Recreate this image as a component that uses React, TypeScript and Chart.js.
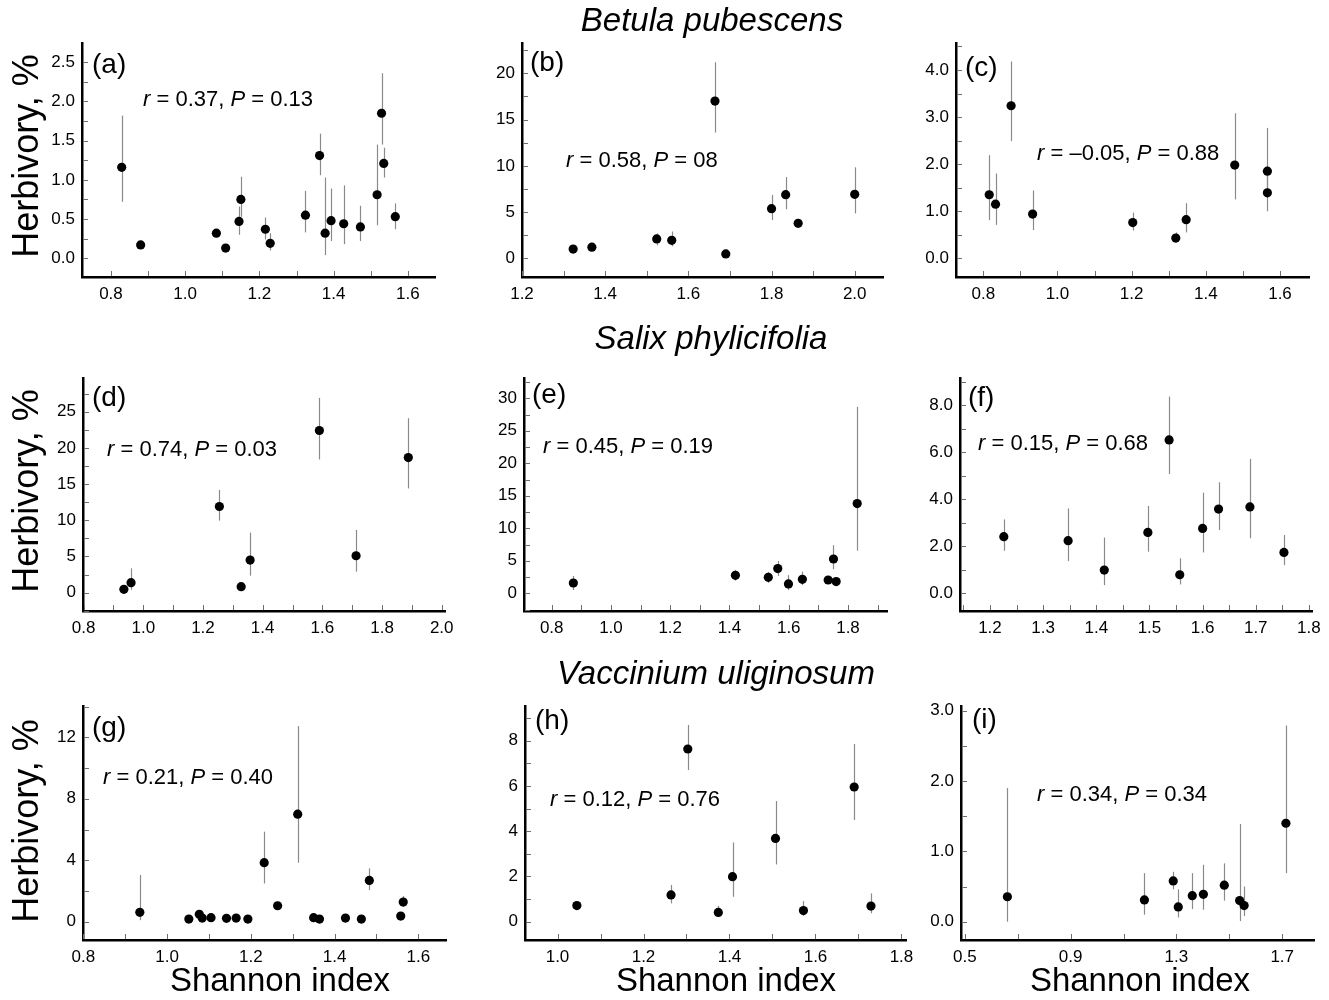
import React, { useEffect, useRef } from 'react';
import { Chart, registerables } from 'chart.js';

Chart.register(...registerables);

// ---------- Data (Shannon index vs herbivory %, mean with error bar) ----------
// (a) Betula pubescens
const aX = [0.829, 0.88, 1.084, 1.109, 1.145, 1.15, 1.216, 1.229, 1.324, 1.362, 1.377, 1.393, 1.427, 1.472, 1.517, 1.529, 1.535, 1.566];
const aY = [1.16, 0.17, 0.32, 0.13, 0.47, 0.75, 0.37, 0.19, 0.55, 1.31, 0.32, 0.48, 0.44, 0.4, 0.81, 1.85, 1.21, 0.53];
const aLo = [0.72, null, null, null, 0.3, 0.53, 0.24, 0.1, 0.33, 1.06, 0.04, 0.22, 0.18, 0.22, 0.42, 1.45, 1.03, 0.37];
const aHi = [1.82, null, null, null, 0.66, 1.04, 0.52, 0.32, 0.86, 1.59, 1.03, 0.89, 0.93, 0.67, 1.45, 2.36, 1.41, 0.7];
const aXTicks = [0.8, 1.0, 1.2, 1.4, 1.6];
const aYTicks = [0, 0.5, 1.0, 1.5, 2.0, 2.5];

// (b)
const bX = [1.323, 1.368, 1.524, 1.56, 1.664, 1.69, 1.8, 1.834, 1.864, 2.0];
const bY = [1.0, 1.2, 2.1, 1.95, 17.0, 0.47, 5.37, 6.88, 3.78, 6.92];
const bLo = [null, null, 1.4, 1.3, 13.6, null, 4.15, 5.3, null, 4.86];
const bHi = [null, null, 2.7, 2.9, 21.2, null, 6.85, 8.8, null, 9.84];
const bXTicks = [1.2, 1.4, 1.6, 1.8, 2.0];
const bYTicks = [0, 5, 10, 15, 20];

// (c)
const cX = [0.816, 0.833, 0.875, 0.933, 1.203, 1.319, 1.347, 1.478, 1.566, 1.566];
const cY = [1.35, 1.15, 3.24, 0.94, 0.76, 0.43, 0.82, 1.98, 1.85, 1.39];
const cLo = [0.81, 0.71, 2.49, 0.6, 0.59, 0.34, 0.55, 1.25, 1.45, 1.0];
const cHi = [2.19, 1.8, 4.18, 1.44, 0.97, 0.55, 1.17, 3.08, 2.77, 1.75];
const cXTicks = [0.8, 1.0, 1.2, 1.4, 1.6];
const cYTicks = [0, 1, 2, 3, 4];

// (d) Salix phylicifolia
const dX = [0.935, 0.959, 1.255, 1.328, 1.358, 1.59, 1.713, 1.888];
const dY = [0.46, 1.38, 11.9, 0.83, 4.5, 22.4, 5.1, 18.66];
const dLo = [null, 0.4, 9.95, null, 2.35, 18.4, 2.9, 14.4];
const dHi = [null, 3.36, 14.2, null, 8.3, 26.9, 8.66, 24.1];
const dXTicks = [0.8, 1.0, 1.2, 1.4, 1.6, 1.8, 2.0];
const dYTicks = [0, 5, 10, 15, 20, 25];

// (e)
const eX = [0.873, 1.42, 1.531, 1.563, 1.599, 1.646, 1.733, 1.751, 1.76, 1.831];
const eY = [1.59, 2.77, 2.46, 3.8, 1.44, 2.15, 2.05, 5.28, 1.8, 13.8];
const eLo = [0.5, 1.95, 1.6, 2.67, 0.5, 1.28, 1.6, 3.7, 1.3, 6.56];
const eHi = [2.67, 3.6, 3.3, 4.97, 2.8, 3.33, 2.6, 7.4, 2.3, 28.7];
const eXTicks = [0.8, 1.0, 1.2, 1.4, 1.6, 1.8];
const eYTicks = [0, 5, 10, 15, 20, 25, 30];

// (f)
const fX = [1.226, 1.347, 1.415, 1.497, 1.537, 1.557, 1.6, 1.63, 1.689, 1.753];
const fY = [2.41, 2.24, 0.99, 2.59, 6.52, 0.79, 2.76, 3.58, 3.67, 1.74];
const fLo = [1.81, 1.37, 0.35, 1.77, 5.07, 0.38, 1.74, 2.69, 2.34, 1.2];
const fHi = [3.14, 3.61, 2.37, 3.71, 8.36, 1.49, 4.28, 4.72, 5.71, 2.48];
const fXTicks = [1.2, 1.3, 1.4, 1.5, 1.6, 1.7, 1.8];
const fYTicks = [0, 2, 4, 6, 8];

// (g) Vaccinium uliginosum
const gX = [0.935, 1.052, 1.077, 1.084, 1.105, 1.142, 1.165, 1.193, 1.232, 1.264, 1.312, 1.35, 1.364, 1.426, 1.464, 1.483, 1.558, 1.564];
const gY = [0.61, 0.17, 0.48, 0.24, 0.26, 0.22, 0.24, 0.17, 3.84, 1.04, 7.0, 0.26, 0.17, 0.24, 0.17, 2.69, 0.37, 1.28];
const gLo = [0.1, null, null, null, null, null, null, null, 2.49, null, 3.84, null, null, null, null, 2.06, null, 0.98];
const gHi = [3.04, null, null, null, null, null, null, null, 5.86, null, 12.73, null, null, null, null, 3.47, null, 1.67];
const gXTicks = [0.8, 1.0, 1.2, 1.4, 1.6];
const gYTicks = [0, 4, 8, 12];

// (h)
const hX = [1.045, 1.264, 1.303, 1.374, 1.407, 1.507, 1.572, 1.69, 1.729];
const hY = [0.71, 1.18, 7.63, 0.41, 1.99, 3.68, 0.49, 5.95, 0.69];
const hLo = [null, 0.81, 6.7, 0.22, 1.1, 2.53, 0.26, 4.49, 0.37];
const hHi = [null, 1.62, 8.69, 0.7, 3.5, 5.33, 0.91, 7.85, 1.25];
const hXTicks = [1.0, 1.2, 1.4, 1.6, 1.8];
const hYTicks = [0, 2, 4, 6, 8];

// (i)
const iX = [0.661, 1.179, 1.288, 1.307, 1.36, 1.402, 1.481, 1.539, 1.556, 1.714];
const iY = [0.355, 0.31, 0.58, 0.21, 0.37, 0.39, 0.52, 0.3, 0.23, 1.4];
const iLo = [0.0, 0.1, 0.46, 0.06, 0.18, 0.17, 0.3, 0.01, 0.08, 0.69];
const iHi = [1.9, 0.69, 0.71, 0.46, 0.69, 0.81, 0.83, 1.39, 0.5, 2.79];
const iXTicks = [0.5, 0.9, 1.3, 1.7];
const iYTicks = [0, 1, 2, 3];

const letters = ['(a)', '(b)', '(c)', '(d)', '(e)', '(f)', '(g)', '(h)', '(i)'];
const statR = ['0.37', '0.58', '\u20130.05', '0.74', '0.45', '0.15', '0.21', '0.12', '0.34'];
const statP = ['0.13', '08', '0.88', '0.03', '0.19', '0.68', '0.40', '0.76', '0.34'];
const species = ['Betula pubescens', 'Salix phylicifolia', 'Vaccinium uliginosum'];
const yTitle = 'Herbivory, %';
const xTitle = 'Shannon index';

// ---------- Layout ----------
const AX_W = 60;
const AX_H = 42;
const PAD_T = 20;
const PAD_R = 24;
const ARIAL = "'Liberation Sans', Arial, sans-serif";
const TICK_FONT = ARIAL;

const panels = [
  { x: aX, y: aY, lo: aLo, hi: aHi, xt: aXTicks, yt: aYTicks, yDec: 1, xr: [0.722, 1.673], yr: [-0.239, 2.746], L: 82, R: 435, T: 43, B: 277, lp: [92, 74], sp: [143, 107] },
  { x: bX, y: bY, lo: bLo, hi: bHi, xt: bXTicks, yt: bYTicks, yDec: 0, xr: [1.2, 2.068], yr: [-2.02, 23.28], L: 522, R: 883, T: 43, B: 277, lp: [530, 72], sp: [566, 168] },
  { x: cX, y: cY, lo: cLo, hi: cHi, xt: cXTicks, yt: cYTicks, yDec: 1, xr: [0.7264, 1.6782], yr: [-0.397, 4.573], L: 956, R: 1309, T: 43, B: 277, lp: [965, 77], sp: [1037, 161] },
  { x: dX, y: dY, lo: dLo, hi: dHi, xt: dXTicks, yt: dYTicks, yDec: 0, xr: [0.798, 2.011], yr: [-2.53, 29.65], L: 83, R: 445, T: 378, B: 611, lp: [92, 407], sp: [107, 457] },
  { x: eX, y: eY, lo: eLo, hi: eHi, xt: eXTicks, yt: eYTicks, yDec: 0, xr: [0.7065, 1.9316], yr: [-2.72, 33.12], L: 524, R: 887, T: 378, B: 611, lp: [532, 404], sp: [543, 454] },
  { x: fX, y: fY, lo: fLo, hi: fHi, xt: fXTicks, yt: fYTicks, yDec: 1, xr: [1.1436, 1.8058], yr: [-0.75, 9.15], L: 960, R: 1312, T: 378, B: 611, lp: [968, 407], sp: [978, 451] },
  { x: gX, y: gY, lo: gLo, hi: gHi, xt: gXTicks, yt: gYTicks, yDec: 0, xr: [0.7993, 1.6661], yr: [-1.19, 14.04], L: 83, R: 446, T: 706, B: 940, lp: [92, 737], sp: [103, 785] },
  { x: hX, y: hY, lo: hLo, hi: hHi, xt: hXTicks, yt: hYTicks, yDec: 0, xr: [0.9244, 1.8105], yr: [-0.81, 9.53], L: 525, R: 906, T: 706, B: 940, lp: [535, 730], sp: [550, 807] },
  { x: iX, y: iY, lo: iLo, hi: iHi, xt: iXTicks, yt: iYTicks, yDec: 1, xr: [0.4856, 1.8202], yr: [-0.26, 3.067], L: 961, R: 1314, T: 706, B: 940, lp: [972, 729], sp: [1037, 802] },
];

function minorValues(ticks: number[], step: number, min: number, max: number) {
  let s = ticks[0];
  while (s - step >= min - 1e-9) s -= step;
  const out: number[] = [];
  for (let i = 0; i < 200; i++) {
    const v = s + i * step;
    if (v > max + 1e-9) break;
    out.push(v);
  }
  return out;
}

function Panel({ p }: { p: any }) {
  const ref = useRef<HTMLCanvasElement | null>(null);
  const width = p.R - p.L + AX_W + PAD_R;
  const height = p.B - p.T + PAD_T + AX_H;

  useEffect(() => {
    if (!ref.current) return;
    const data = p.x.map((xv: number, i: number) => ({ x: xv, y: p.y[i], lo: p.lo[i], hi: p.hi[i] }));
    const xStep = (p.xt[1] - p.xt[0]) / 2;
    const yStep = (p.yt[1] - p.yt[0]) / 2;

    const extras = {
      id: 'panelExtras',
      beforeDatasetsDraw(chart: any) {
        const { ctx, chartArea: ca } = chart;
        const xs = chart.scales.x;
        const ys = chart.scales.y;
        ctx.save();
        // inner minor tick marks
        ctx.strokeStyle = '#6e6e6e';
        ctx.lineWidth = 1;
        minorValues(p.xt, xStep, xs.min, xs.max).forEach((v) => {
          const px = Math.round(xs.getPixelForValue(v)) + 0.5;
          ctx.beginPath();
          ctx.moveTo(px, ca.bottom - 1);
          ctx.lineTo(px, ca.bottom - 6);
          ctx.stroke();
        });
        minorValues(p.yt, yStep, ys.min, ys.max).forEach((v) => {
          const py = Math.round(ys.getPixelForValue(v)) + 0.5;
          ctx.beginPath();
          ctx.moveTo(ca.left + 1, py);
          ctx.lineTo(ca.left + 6, py);
          ctx.stroke();
        });
        // error bars
        ctx.strokeStyle = '#8a8a8a';
        ctx.lineWidth = 1.2;
        data.forEach((d: any) => {
          if (d.lo == null || d.hi == null) return;
          const px = Math.round(xs.getPixelForValue(d.x)) + 0.5;
          ctx.beginPath();
          ctx.moveTo(px, ys.getPixelForValue(d.hi));
          ctx.lineTo(px, ys.getPixelForValue(d.lo));
          ctx.stroke();
        });
        ctx.restore();
      },
    };

    const chart = new Chart(ref.current, {
      type: 'scatter',
      data: {
        datasets: [
          {
            data,
            pointRadius: 4.6,
            pointHoverRadius: 4.6,
            backgroundColor: '#000',
            borderWidth: 0,
          },
        ],
      },
      options: {
        animation: false,
        responsive: false,
        devicePixelRatio: 1,
        layout: { padding: { top: PAD_T, right: PAD_R, left: 0, bottom: 0 } },
        plugins: { legend: { display: false }, tooltip: { enabled: false } },
        scales: {
          x: {
            type: 'linear',
            bounds: 'data',
            min: p.xr[0],
            max: p.xr[1],
            grid: { display: false, drawTicks: false },
            border: { display: true, color: '#000', width: 2.5 },
            ticks: {
              autoSkip: false,
              maxRotation: 0,
              padding: 7,
              color: '#000',
              font: { family: TICK_FONT, size: 17 },
              callback: (v: any) => Number(v).toFixed(1),
            },
            afterBuildTicks: (s: any) => {
              s.ticks = p.xt.map((v: number) => ({ value: v }));
            },
            afterFit: (s: any) => {
              s.height = AX_H;
            },
          },
          y: {
            type: 'linear',
            bounds: 'data',
            min: p.yr[0],
            max: p.yr[1],
            grid: { display: false, drawTicks: false },
            border: { display: true, color: '#000', width: 2.5 },
            ticks: {
              autoSkip: false,
              padding: 7,
              color: '#000',
              font: { family: TICK_FONT, size: 17 },
              callback: (v: any) => Number(v).toFixed(p.yDec),
            },
            afterBuildTicks: (s: any) => {
              s.ticks = p.yt.map((v: number) => ({ value: v }));
            },
            afterFit: (s: any) => {
              s.width = AX_W;
            },
          },
        },
      },
      plugins: [extras],
    } as any);
    return () => chart.destroy();
  }, [p]);

  return (
    <canvas
      ref={ref}
      width={width}
      height={height}
      style={{ position: 'absolute', left: p.L - AX_W, top: p.T - PAD_T, width, height }}
    />
  );
}

function Stat({ idx }: { idx: number }) {
  const p = panels[idx];
  const fs = 22;
  return (
    <div
      style={{
        position: 'absolute',
        left: p.sp[0],
        top: p.sp[1] - 0.846 * fs,
        fontFamily: ARIAL,
        fontSize: fs,
        lineHeight: 1,
        whiteSpace: 'nowrap',
        color: '#000',
      }}
    >
      <i>r</i> = {statR[idx]}, <i>P</i> = {statP[idx]}
    </div>
  );
}

function Letter({ idx }: { idx: number }) {
  const p = panels[idx];
  const fs = 28;
  return (
    <div
      style={{
        position: 'absolute',
        left: p.lp[0],
        top: p.lp[1] - 0.846 * fs,
        fontFamily: ARIAL,
        fontSize: fs,
        lineHeight: 1,
        whiteSpace: 'nowrap',
        color: '#000',
      }}
    >
      {letters[idx]}
    </div>
  );
}

const speciesBaseline = [31, 349, 684];
const speciesCenter = [712, 711, 716];
const yTitleCenter = [156, 491, 821];
const xTitleCenter = [280, 726, 1140];

export default function App() {
  return (
    <div
      style={{
        position: 'absolute',
        left: 0,
        top: 0,
        width: 1329,
        height: 1000,
        background: '#fff',
        overflow: 'hidden',
      }}
    >
      {panels.map((p, i) => (
        <Panel key={i} p={p} />
      ))}
      {panels.map((_, i) => (
        <Letter key={'l' + i} idx={i} />
      ))}
      {panels.map((_, i) => (
        <Stat key={'s' + i} idx={i} />
      ))}
      {species.map((s, i) => (
        <div
          key={'sp' + i}
          style={{
            position: 'absolute',
            left: speciesCenter[i],
            top: speciesBaseline[i] - 0.846 * 33,
            transform: 'translateX(-50%)',
            fontFamily: ARIAL,
            fontStyle: 'italic',
            fontSize: 33,
            lineHeight: 1,
            whiteSpace: 'nowrap',
            color: '#000',
          }}
        >
          {s}
        </div>
      ))}
      {yTitleCenter.map((yc, i) => (
        <div
          key={'yt' + i}
          style={{
            position: 'absolute',
            left: 26,
            top: yc,
            transform: 'translate(-50%, -50%) rotate(-90deg)',
            fontFamily: ARIAL,
            fontSize: 36,
            lineHeight: 1,
            whiteSpace: 'nowrap',
            color: '#000',
          }}
        >
          {yTitle}
        </div>
      ))}
      {xTitleCenter.map((xc, i) => (
        <div
          key={'xt' + i}
          style={{
            position: 'absolute',
            left: xc,
            top: 991 - 0.846 * 33,
            transform: 'translateX(-50%)',
            fontFamily: ARIAL,
            fontSize: 33,
            lineHeight: 1,
            whiteSpace: 'nowrap',
            color: '#000',
          }}
        >
          {xTitle}
        </div>
      ))}
    </div>
  );
}
